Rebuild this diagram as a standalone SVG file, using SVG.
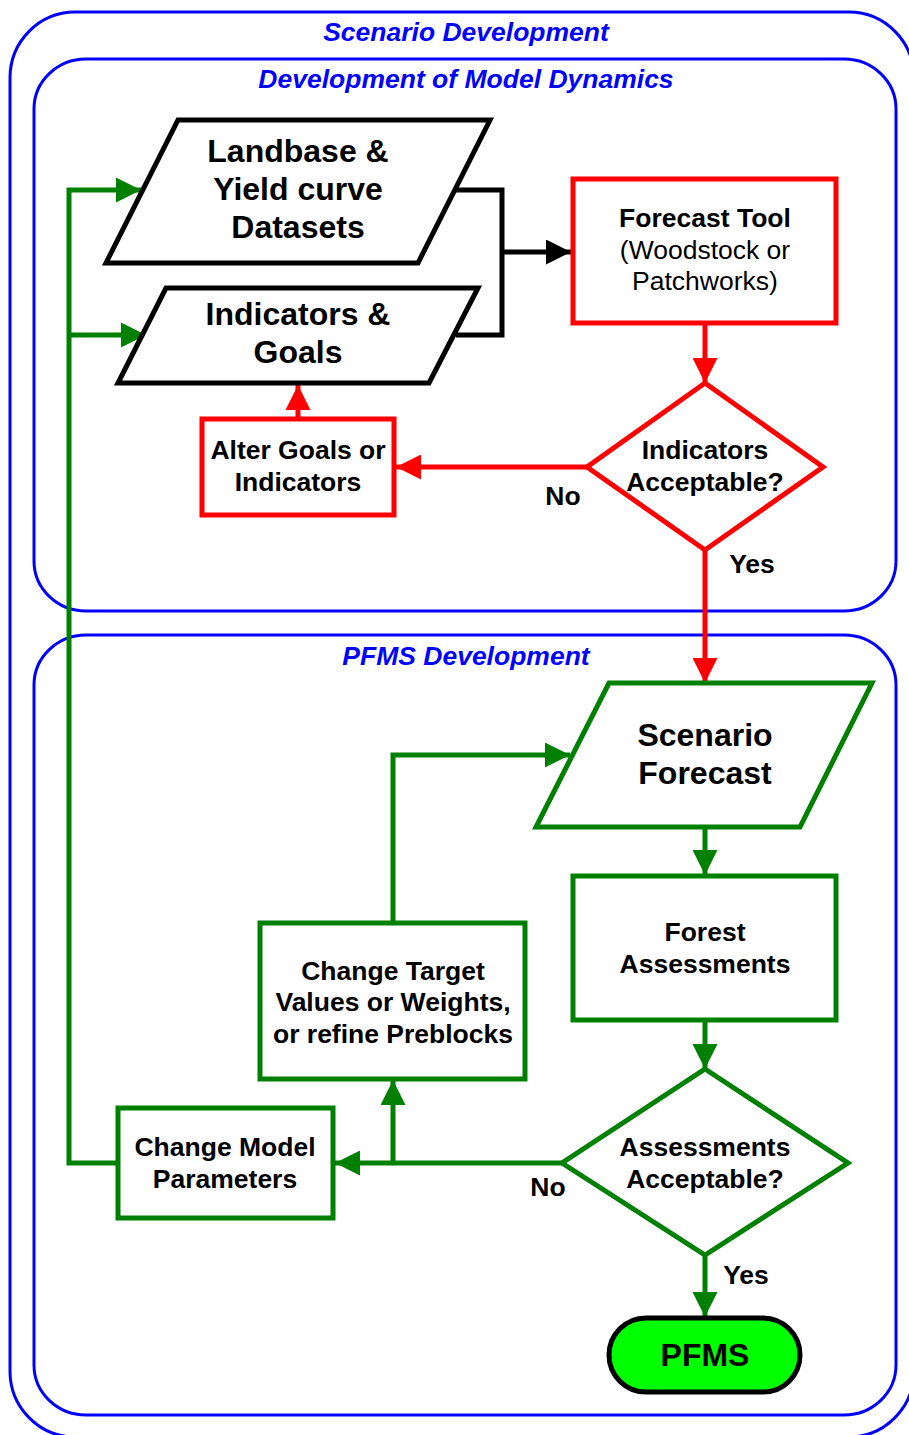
<svg xmlns="http://www.w3.org/2000/svg" width="909" height="1435" viewBox="0 0 909 1435">
<style>
.cont{fill:none;stroke:#0000ff;stroke-width:3}
.title{font-family:"Liberation Sans",Arial,sans-serif;font-weight:bold;font-style:italic;font-size:26.5px;fill:#0000ff;text-anchor:middle}
.t{font-family:"Liberation Sans",Arial,sans-serif;font-weight:bold;font-size:26.5px;fill:#000;text-anchor:middle}
.tn{font-family:"Liberation Sans",Arial,sans-serif;font-size:26.5px;fill:#000;text-anchor:middle}
.big{font-family:"Liberation Sans",Arial,sans-serif;font-weight:bold;font-size:32px;fill:#000;text-anchor:middle}
.nb{fill:#fff;stroke:#000;stroke-width:5;stroke-linejoin:miter}
.nr{fill:#fff;stroke:#ff0000;stroke-width:5}
.ng{fill:#fff;stroke:#008000;stroke-width:5}
.cb{fill:none;stroke:#000;stroke-width:5}
.cr{fill:none;stroke:#ff0000;stroke-width:5}
.cg{fill:none;stroke:#008000;stroke-width:5}
</style>
<defs>
<marker id="ab" viewBox="0 0 10 10" refX="10" refY="5" markerWidth="5" markerHeight="5" orient="auto" markerUnits="strokeWidth"><path d="M0,0 L10,5 L0,10 z" fill="#000"/></marker>
<marker id="ar" viewBox="0 0 10 10" refX="10" refY="5" markerWidth="5" markerHeight="5" orient="auto" markerUnits="strokeWidth"><path d="M0,0 L10,5 L0,10 z" fill="#ff0000"/></marker>
<marker id="ag" viewBox="0 0 10 10" refX="10" refY="5" markerWidth="5" markerHeight="5" orient="auto" markerUnits="strokeWidth"><path d="M0,0 L10,5 L0,10 z" fill="#008000"/></marker>
</defs>
<rect width="909" height="1435" fill="#fff"/>
<g id="containers">
<rect class="cont" x="10" y="12" width="904" height="1425" rx="65" ry="66"/>
<text class="title" x="466" y="41">Scenario Development</text>
<rect class="cont" x="34" y="59" width="862" height="552" rx="52" ry="50"/>
<text class="title" x="466" y="88">Development of Model Dynamics</text>
<rect class="cont" x="34" y="635" width="862" height="780" rx="52" ry="50"/>
<text class="title" x="466" y="665">PFMS Development</text>
</g>
<g id="connectors">
<polyline class="cb" points="456,190 502,190 502,335 456,335"/>
<line class="cb" x1="502" y1="252" x2="571" y2="252" marker-end="url(#ab)"/>
<line class="cr" x1="705" y1="324" x2="705" y2="383" marker-end="url(#ar)"/>
<line class="cr" x1="587" y1="467" x2="396" y2="467" marker-end="url(#ar)"/>
<line class="cr" x1="298" y1="419" x2="298" y2="385" marker-end="url(#ar)"/>
<line class="cr" x1="705" y1="550" x2="705" y2="683" marker-end="url(#ar)"/>
<line class="cg" x1="705" y1="828" x2="705" y2="875" marker-end="url(#ag)"/>
<line class="cg" x1="705" y1="1020" x2="705" y2="1069" marker-end="url(#ag)"/>
<line class="cg" x1="705" y1="1255" x2="705" y2="1317" marker-end="url(#ag)"/>
<line class="cg" x1="562" y1="1163" x2="335" y2="1163" marker-end="url(#ag)"/>
<line class="cg" x1="393" y1="1163" x2="393" y2="1080" marker-end="url(#ag)"/>
<polyline class="cg" points="393,923 393,755 570,755" marker-end="url(#ag)"/>
<polyline class="cg" points="118,1163 69,1163 69,190 141,190" marker-end="url(#ag)"/>
<line class="cg" x1="69" y1="335" x2="146" y2="335" marker-end="url(#ag)"/>
<text class="t" x="563" y="505">No</text>
<text class="t" x="752" y="573">Yes</text>
<text class="t" x="548" y="1196">No</text>
<text class="t" x="746" y="1284">Yes</text>
</g>
<g id="landbase">
<polygon class="nb" points="178,120 490,120 418,263 106,263"/>
<text class="big" x="298" y="162">Landbase &amp;</text>
<text class="big" x="298" y="200">Yield curve</text>
<text class="big" x="298" y="238">Datasets</text>
</g>
<g id="indicators-goals">
<polygon class="nb" points="166,288 478,288 429,383 118,383"/>
<text class="big" x="298" y="325">Indicators &amp;</text>
<text class="big" x="298" y="363">Goals</text>
</g>
<g id="forecast-tool">
<rect class="nr" x="573" y="179" width="263" height="144"/>
<text class="t" x="705" y="227">Forecast Tool</text>
<text class="tn" x="705" y="259">(Woodstock or</text>
<text class="tn" x="705" y="290">Patchworks)</text>
</g>
<g id="indicators-acceptable">
<polygon class="nr" points="705,383 823,467 705,550 587,467"/>
<text class="t" x="705" y="459">Indicators</text>
<text class="t" x="705" y="491">Acceptable?</text>
</g>
<g id="alter-goals">
<rect class="nr" x="202" y="419" width="192" height="96"/>
<text class="t" x="298" y="459">Alter Goals or</text>
<text class="t" x="298" y="491">Indicators</text>
</g>
<g id="scenario-forecast">
<polygon class="ng" points="609,683 872,683 800,827 536,827"/>
<text class="big" x="705" y="746">Scenario</text>
<text class="big" x="705" y="784">Forecast</text>
</g>
<g id="forest-assessments">
<rect class="ng" x="573" y="876" width="263" height="144"/>
<text class="t" x="705" y="941">Forest</text>
<text class="t" x="705" y="973">Assessments</text>
</g>
<g id="change-target">
<rect class="ng" x="260" y="923" width="265" height="156"/>
<text class="t" x="393" y="980">Change Target</text>
<text class="t" x="393" y="1011">Values or Weights,</text>
<text class="t" x="393" y="1043">or refine Preblocks</text>
</g>
<g id="assessments-acceptable">
<polygon class="ng" points="705,1069 848,1163 705,1255 562,1163"/>
<text class="t" x="705" y="1156">Assessments</text>
<text class="t" x="705" y="1188">Acceptable?</text>
</g>
<g id="change-model">
<rect class="ng" x="118" y="1108" width="215" height="110"/>
<text class="t" x="225" y="1156">Change Model</text>
<text class="t" x="225" y="1188">Parameters</text>
</g>
<g id="pfms">
<rect x="609" y="1318" width="191" height="74" rx="37" ry="37" fill="#00ff00" stroke="#000" stroke-width="5"/>
<text class="big" x="705" y="1366">PFMS</text>
</g>
</svg>
